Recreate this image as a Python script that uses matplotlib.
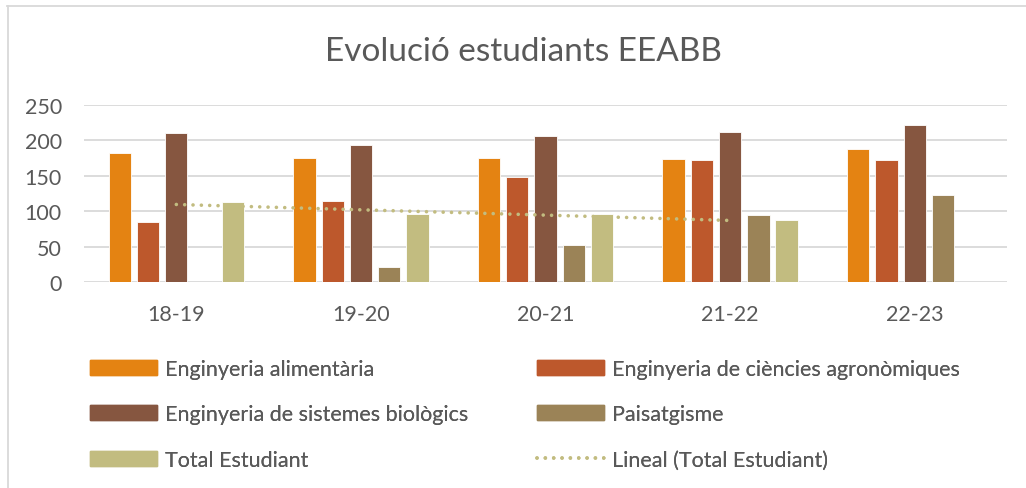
import numpy as np
import matplotlib
matplotlib.use("Agg")
import matplotlib.pyplot as plt
from matplotlib.patches import Patch
from matplotlib.lines import Line2D

plt.rcParams['font.family'] = ['Lato', 'DejaVu Sans']

cursos = ["18-19", "19-20", "20-21", "21-22", "22-23"]
alimentaria = [182, 175, 175, 173, 187]
agronomiques = [85, 115, 148, 172, 172]
biologics = [210, 193, 206, 211, 221]
paisatgisme = [0, 22, 53, 94, 123]
total = [113, 96, 96, 88, np.nan]

noms = ["Enginyeria alimentària", "Enginyeria de ciències agronòmiques",
        "Enginyeria de sistemes biològics", "Paisatgisme", "Total Estudiant"]
colors = ["#E48312", "#BD582C", "#865640", "#9B8357", "#C2BC80"]
series = [alimentaria, agronomiques, biologics, paisatgisme, total]

gris_text = "#595959"
gris_linia = "#D9D9D9"

fig = plt.figure(figsize=(10.26, 4.89), dpi=100)
ax = fig.add_axes([0.0819, 0.4207, 0.8996, 0.3633])

x = np.arange(len(cursos))
pas = 0.153
amplada = 0.121
for i, (vals, c) in enumerate(zip(series, colors)):
    ax.bar(x + (i - 2) * pas, vals, amplada, color=c, edgecolor="white",
           linewidth=0.6, zorder=3)

# linea de tendencia (lineal) sobre Total Estudiant
tot = np.array(total, dtype=float)
ok = ~np.isnan(tot)
a, b = np.polyfit(x[ok], tot[ok], 1)
xt = x[ok]
ax.plot(xt, a * xt + b, color="#C2BC80", linewidth=2.6,
        linestyle=(0, (0.01, 2.3)), dash_capstyle="round", zorder=4)

ax.set_xlim(-0.5, len(cursos) - 0.5)
ax.set_ylim(0, 250)
ax.set_yticks(range(0, 251, 50))
ax.set_xticks(x)
ax.set_xticklabels(cursos)
ax.grid(axis="y", color=gris_linia, linewidth=1.3, zorder=0)
ax.set_axisbelow(True)
for s in ax.spines.values():
    s.set_visible(False)
ax.tick_params(axis="both", length=0, labelsize=15.5, labelcolor=gris_text)
ax.tick_params(axis="x", pad=16)
ax.tick_params(axis="y", pad=16)

fig.text(0.51, 0.893, "Evolució estudiants EEABB", ha="center", va="center",
         fontsize=24, color=gris_text)

# llegenda en dues columnes (ordre per files com a l'original)
h = [Patch(color=c) for c in colors]
h.append(Line2D([0], [0], color="#C2BC80", linewidth=2.6,
                linestyle=(0, (0.01, 2.3)), dash_capstyle="round"))
etiq = noms + ["Lineal (Total Estudiant)"]
opcions = dict(loc="upper left", frameon=False, fontsize=15.5,
               handlelength=3.1, handleheight=0.7, handletextpad=0.37,
               labelspacing=1.18, borderpad=0, borderaxespad=0)
for cols, x0 in (([0, 2, 4], 90), ([1, 3, 5], 537)):
    leg = fig.legend([h[k] for k in cols], [etiq[k] for k in cols],
                     bbox_to_anchor=(x0 / 1026, 0.264), **opcions)
    for t in leg.get_texts():
        t.set_color(gris_text)
    fig.add_artist(leg)

# marc del grafic
fig.add_artist(Line2D([7 / 1026, 1.0], [1 - 7 / 489, 1 - 7 / 489],
                      color=gris_linia, linewidth=1.3))
fig.add_artist(Line2D([7.5 / 1026, 7.5 / 1026], [0, 1 - 7 / 489],
                      color=gris_linia, linewidth=1.3))

fig.savefig("out.png", dpi=100)
